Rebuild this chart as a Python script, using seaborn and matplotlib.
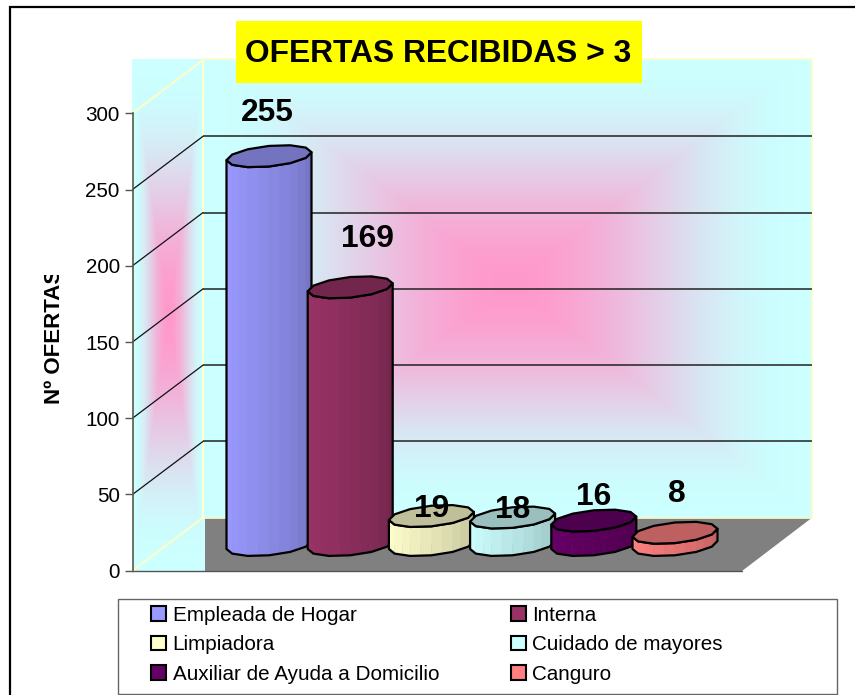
import numpy as np
import pandas as pd
import matplotlib
matplotlib.use("Agg")
import matplotlib.pyplot as plt
from matplotlib.patches import Polygon, Rectangle
from matplotlib.transforms import Bbox
from matplotlib.colors import to_rgb
import seaborn as sns

# ---------- data ----------
categories = ["Empleada de Hogar", "Interna", "Limpiadora",
              "Cuidado de mayores", "Auxiliar de Ayuda a Domicilio", "Canguro"]
ofertas = [255, 169, 19, 18, 16, 8]
colores = ["#9999FF", "#993366", "#FFFFCC", "#CCFFFF", "#660066", "#FF8080"]
y_ticks = [0, 50, 100, 150, 200, 250, 300]
titulo = "OFERTAS RECIBIDAS > 3"
y_titulo = "Nº OFERTAS"
# label offsets from top of each cylinder, in pixels
label_dx = [-2, 17, 0, 0, 0, 2]
label_dy = [43, 48, 7, 8, 24, 39]

# ---------- setup ----------
W, H = 855, 695
sns.set_theme(style="white")
plt.rcParams["font.family"] = ["Liberation Sans", "DejaVu Sans"]
plt.rcParams["text.color"] = "black"
FS = 14.9
BIG = 22.9
fig = plt.figure(figsize=(W / 100, H / 100), dpi=100, facecolor="white")


def px_axes(l, t, r, b):
    return fig.add_axes([l / W, 1 - b / H, (r - l) / W, (b - t) / H])


# ---------- background in pixel space ----------
bg = px_axes(0, 0, W, H)
PINK = np.array([255, 153, 204]) / 255
CYAN = np.array([204, 255, 255]) / 255


def gradient(l, t, r, b, cx, cy, hw, hh, reach=0.93):
    xs = np.arange(l, r) + 0.5
    ys = np.arange(t, b) + 0.5
    X, Y = np.meshgrid(xs, ys)
    u = np.maximum(np.abs(X - cx) / hw, np.abs(Y - cy) / hh)
    u = np.clip(u / reach, 0, 1)
    u = (3 * u ** 2 - 2 * u ** 3)[..., None]
    return PINK * (1 - u) + CYAN * u


WL, WR, WT, WB = 203, 812, 59, 518     # back wall
SL, SB = 132, 572                      # side wall rectangle
FL, FR = 132.5, 203                    # axis x front / back
bg.imshow(gradient(SL, WT, 205, SB, 168.5, 315, 36.5, 256), extent=(SL, 205, SB, WT),
          aspect="auto", interpolation="nearest", zorder=1)
bg.imshow(gradient(WL, WT, WR, WB, 510, 285, 305, 235), extent=(WL, WR, WB, WT),
          aspect="auto", interpolation="nearest", zorder=1)
bg.add_patch(Polygon([(205, 517.7), (812, 517.7), (742, 571), (205, 571)],
                     facecolor="#808080", edgecolor="none", zorder=2))
bg.plot([132, 742], [571, 571], color="#555555", lw=1, zorder=3)
YEL = "#FFFFCC"
bg.plot([FR, WR], [517.7, 517.7], color=YEL, lw=1.2, zorder=2)
bg.plot([FR, FR], [58.7, 517.7], color=YEL, lw=1.4, zorder=3)
bg.plot([FR, WR, WR], [58.7, 58.7, 517.7], color="#FFFBCC", lw=1.4, zorder=3)

# front axis scale and back-wall scale
Y0, Y300 = 570.7, 113.3
B0, B300 = 517.7, 60.0
for v in y_ticks:
    fy = Y0 + (Y300 - Y0) * v / 300
    by = B0 + (B300 - B0) * v / 300
    edge = v in (0, 300)
    bg.plot([FL, FR], [fy, by], color=YEL if edge else "#111111",
            lw=1.4 if edge else 0.9, zorder=3)

# outer frame
bg.plot([9.5, 9.5, W], [H, 6.8, 6.8], color="black", lw=1.6, zorder=4,
        solid_joinstyle="miter")
# title box
bg.add_patch(Rectangle((236, 21), 405.5, 62, facecolor="#FFFF00", edgecolor="none", zorder=5))
bg.text(438, 54, titulo, fontsize=BIG, fontweight="bold", ha="center", va="center",
        color="black", zorder=6)
# legend frame
bg.add_patch(Rectangle((118, 599), 719, 95, facecolor="white", edgecolor="#666666",
                       lw=1.0, zorder=5))
bg.set_xlim(0, W)
bg.set_ylim(H, 0)
bg.axis("off")

# ---------- back wall gridlines ----------
wall = px_axes(FR, B300, WR, B0)
wall.patch.set_visible(False)
wall.set_ylim(0, 300)
wall.set_xticks([])
wall.set_yticks(y_ticks[1:-1])
wall.tick_params(left=False, labelleft=False)
wall.grid(True, axis="y", color="#222222", lw=1.1)
for s in wall.spines.values():
    s.set_visible(False)

# ---------- value axis ----------
front = px_axes(FL, Y300, FR, Y0)
front.patch.set_visible(False)
front.set_ylim(0, 300)
front.set_xticks([])
front.set_yticks(y_ticks)
front.tick_params(axis="y", left=True, length=5.8, width=1, color="#555555", pad=3.4,
                  labelsize=FS, labelcolor="black")
for k, s in front.spines.items():
    s.set_visible(k == "left")
front.spines["left"].set_color("#5A5A48")
front.spines["left"].set_linewidth(1.2)
lab = front.set_ylabel(y_titulo, fontsize=16, fontweight="bold", color="black")
front.yaxis.set_label_coords((65.5 - FL) / (FR - FL), (Y0 - 336) / (Y0 - Y300))
lab.set_clip_box(Bbox([[0, H - 405], [100, H - 275]]))
lab.set_clip_on(True)

# ---------- cylinders ----------
SCALE = (Y0 - Y300) / 300          # pixels per unit
BASE_PX = 545
STEP, C0 = 81.2, 269
ax = px_axes(C0 - STEP / 2, BASE_PX - 300 * SCALE, C0 + 5.5 * STEP, BASE_PX)
ax.patch.set_visible(False)
df = pd.DataFrame({"categoria": categories, "ofertas": ofertas})
sns.barplot(data=df, x="categoria", y="ofertas", hue="categoria", order=categories,
            hue_order=categories, palette=colores, saturation=1, width=85 / STEP,
            legend="full", ax=ax)
ax.set_xlim(-0.5, 5.5)
ax.set_ylim(0, 300)
ax.axis("off")

TILT = 4 / SCALE
DEPTH = 10.3 / SCALE


def ring(cx, a, y, t):
    return np.column_stack([cx + a * np.cos(t), y + TILT * np.cos(t) + DEPTH * np.sin(t)])


bars = list(ax.patches)
for i, (bar, col) in enumerate(zip(bars, colores)):
    z = 3 + 3 * i
    cx = bar.get_x() + bar.get_width() / 2
    a = bar.get_width() / 2
    top = bar.get_height()
    base = np.array(to_rgb(col))
    front_t = np.linspace(np.pi, 2 * np.pi, 7)
    low = ring(cx, a, 0, front_t)
    high = ring(cx, a, top, front_t)
    outline = np.vstack([low, high[::-1]])
    sil = Polygon(outline, closed=True, transform=ax.transData)
    bar.set_zorder(z)
    bar.set_clip_path(sil)
    for j in range(len(front_t) - 1):
        # finer vertical facets across each flat side of the polygon
        for m in range(2):
            f0, f1 = m / 2, (m + 1) / 2
            p0 = low[j] + (low[j + 1] - low[j]) * f0
            p1 = low[j] + (low[j + 1] - low[j]) * f1
            q0 = high[j] + (high[j + 1] - high[j]) * f0
            q1 = high[j] + (high[j + 1] - high[j]) * f1
            shade = 1.0 - 0.25 * ((j + f0) / (len(front_t) - 1.5)) ** 1.3
            ax.add_patch(Polygon([p0, p1, q1, q0], closed=True,
                                 facecolor=base * shade, edgecolor=base * shade, lw=0.3,
                                 zorder=z, clip_on=False))
    ax.add_patch(Polygon(outline, closed=True, facecolor="none", edgecolor="black", lw=1.6,
                         zorder=z + 1, clip_on=False, joinstyle="round"))
    cap = ring(cx, a, top, np.linspace(0, 2 * np.pi, 13)[:-1])
    ax.add_patch(Polygon(cap, closed=True, facecolor=base * 0.75, edgecolor="black", lw=1.6,
                         zorder=z + 2, clip_on=False, joinstyle="round"))
    ax.annotate(str(ofertas[i]), xy=(cx, top), xycoords="data",
                xytext=(label_dx[i] * 0.72, label_dy[i] * 0.72), textcoords="offset points",
                ha="center", va="center", fontsize=BIG, fontweight="bold", color="black",
                zorder=100, annotation_clip=False)

# ---------- legend ----------
old = ax.get_legend()
handles = list(old.legend_handles)
labels = [t.get_text() for t in old.get_texts()]
old.remove()
order = [0, 2, 4, 1, 3, 5]
leg = fig.legend([handles[k] for k in order], [labels[k] for k in order], ncols=2,
                 loc="upper left", bbox_to_anchor=(151 / W, 1 - 606 / H), frameon=False,
                 fontsize=FS, borderpad=0, borderaxespad=0, handlelength=0.72,
                 handleheight=0.72, handletextpad=0.33, columnspacing=3.45,
                 labelspacing=0.5)
leg.set_zorder(20)
for h in leg.legend_handles:
    h.set_edgecolor("black")
    h.set_linewidth(1.5)

fig.savefig("out.png", dpi=100)
